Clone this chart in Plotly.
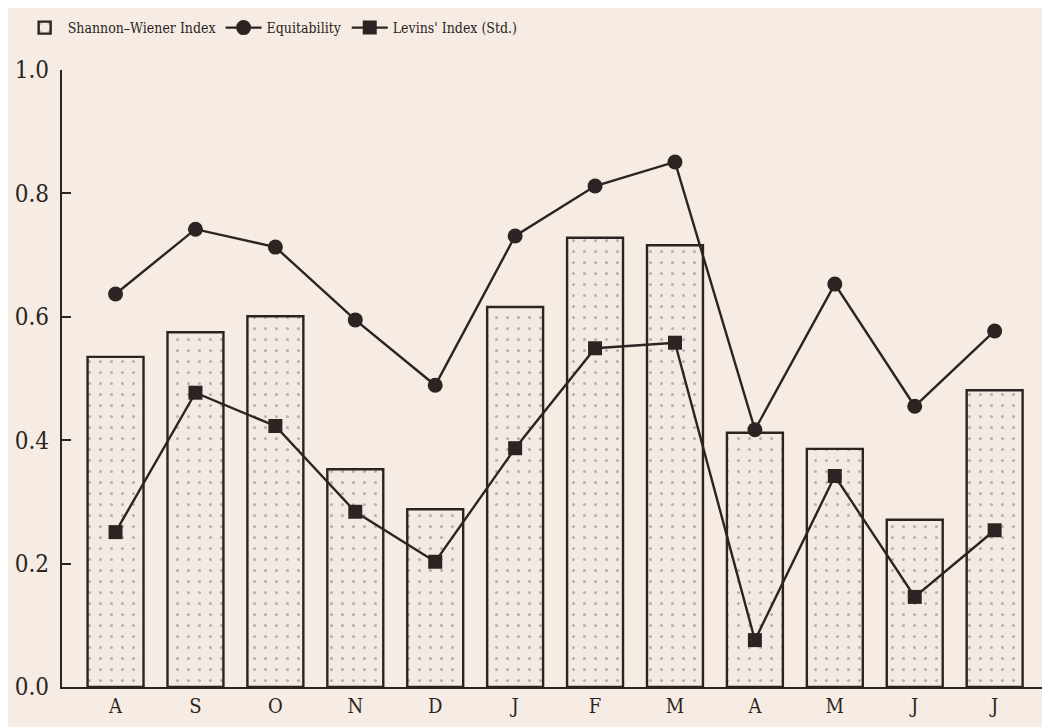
import plotly.graph_objects as go

months = ["A", "S", "O", "N", "D", "J", "F", "M", "A", "M", "J", "J"]
shannon = [0.535, 0.575, 0.601, 0.353, 0.288, 0.616, 0.728, 0.716, 0.412, 0.386, 0.271, 0.481]
equitability = [0.637, 0.742, 0.713, 0.595, 0.489, 0.731, 0.812, 0.851, 0.417, 0.653, 0.455, 0.577]
levins = [0.251, 0.477, 0.423, 0.284, 0.203, 0.387, 0.549, 0.558, 0.076, 0.342, 0.146, 0.254]
y_ticks = [0.0, 0.2, 0.4, 0.6, 0.8, 1.0]

ink = "#2b2422"
bg = "#f6ece3"
font = "DejaVu Serif Condensed, Liberation Serif, serif"

x = list(range(len(months)))

fig = go.Figure()
fig.add_trace(go.Bar(
    x=x, y=shannon, name="Shannon\u2013Wiener Index", width=0.70,
    marker=dict(color="#f3ebe3", line=dict(color=ink, width=2.4),
                pattern=dict(shape=".", fgcolor="#7a7270", bgcolor="#f3ebe3",
                             size=11, solidity=0.06)),
))
fig.add_trace(go.Scatter(
    x=x, y=equitability, name="Equitability", mode="lines+markers",
    line=dict(color=ink, width=2.4),
    marker=dict(symbol="circle", size=15, color=ink),
))
fig.add_trace(go.Scatter(
    x=x, y=levins, name="Levins' Index (Std.)", mode="lines+markers",
    line=dict(color=ink, width=2.4),
    marker=dict(symbol="square", size=14, color=ink),
))

fig.update_layout(
    width=1050, height=727,
    paper_bgcolor=bg, plot_bgcolor=bg,
    margin=dict(l=54, r=13, t=62, b=48, autoexpand=False),
    font=dict(family=font, size=19, color=ink),
    showlegend=True,
    legend=dict(orientation="h", x=0.013, y=1 - 20 / 727, xref="container", yref="container",
                xanchor="left", yanchor="middle",
                bgcolor="rgba(0,0,0,0)", font=dict(size=14), itemwidth=36,
                traceorder="normal"),
)
fig.update_xaxes(
    range=[-0.67, 11.63], tickvals=x, ticktext=months,
    showgrid=False, zeroline=False, showline=True, linecolor=ink, linewidth=2.4,
    ticks="", tickfont=dict(size=20, family=font),
)
fig.update_yaxes(
    range=[0, 1.0], tickvals=y_ticks, ticktext=[f"{v:.1f}" for v in y_ticks],
    showgrid=False, zeroline=False, showline=True, linecolor=ink, linewidth=2.4,
    ticks="inside", ticklen=9, tickwidth=2.4, tickcolor=ink,
    tickfont=dict(size=24, family=font), ticklabelstandoff=6,
)

fig.write_html("out.html")
